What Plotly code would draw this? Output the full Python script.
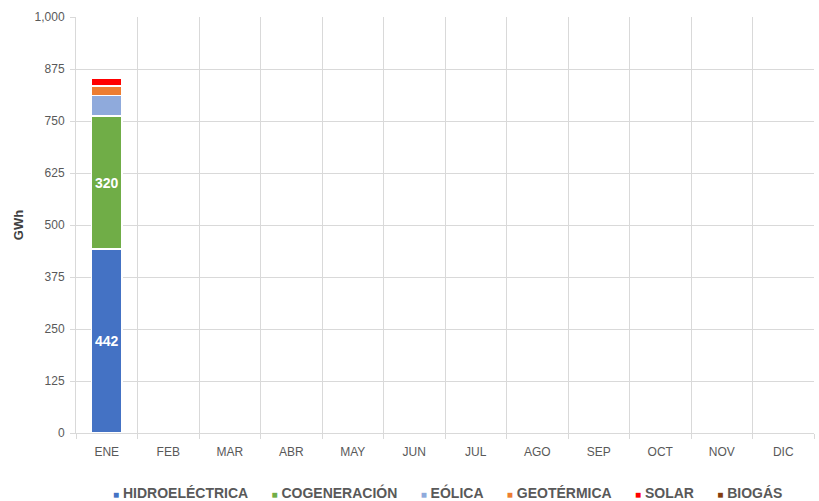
import plotly.graph_objects as go

# Generación mensual por fuente (GWh)
meses = ["ENE", "FEB", "MAR", "ABR", "MAY", "JUN", "JUL", "AGO", "SEP", "OCT", "NOV", "DIC"]
hidroelectrica = [442] + [None] * 11
cogeneracion = [320] + [None] * 11
eolica = [49] + [None] * 11
geotermica = [23] + [None] * 11
solar = [19] + [None] * 11
biogas = [2] + [None] * 11

y_ticks = [0, 125, 250, 375, 500, 625, 750, 875, 1000]

series = [
    ("HIDROELÉCTRICA", hidroelectrica, "#4472C4", True),
    ("COGENERACIÓN", cogeneracion, "#70AD47", True),
    ("EÓLICA", eolica, "#8FAADC", False),
    ("GEOTÉRMICA", geotermica, "#ED7D31", False),
    ("SOLAR", solar, "#FF0000", False),
    ("BIOGÁS", biogas, "#843C0C", False),
]

FONT = "Arial, 'Liberation Sans', sans-serif"

fig = go.Figure()
for name, vals, color, labelled in series:
    fig.add_trace(go.Bar(
        x=meses,
        y=vals,
        name=name,
        width=0.49,
        marker=dict(color=color, line=dict(color="white", width=1.5)),
        text=[f"{v:,}" if (labelled and v is not None) else "" for v in vals],
        textposition="inside",
        insidetextanchor="middle",
        textangle=0,
        textfont=dict(family=FONT, size=14, color="white", weight="bold"),
        showlegend=False,
        hoverinfo="name+y",
    ))

# Legend row drawn as a single line of coloured squares and names
legend_parts = []
for name, _, color, _ in series:
    legend_parts.append(
        f"<span style='color:{color};font-size:10px'>■</span>\u00a0{name}"
    )
legend_text = "\u00a0" * 6
legend_text = legend_text.join(legend_parts)

fig.add_annotation(
    text=f"<b>{legend_text}</b>",
    xref="paper", yref="paper",
    x=0.504, y=-0.142,
    xanchor="center", yanchor="middle",
    showarrow=False,
    font=dict(family=FONT, size=14, color="#595959"),
)

fig.update_layout(
    barmode="stack",
    width=819,
    height=501,
    margin=dict(l=76, r=5, t=17, b=68),
    paper_bgcolor="white",
    plot_bgcolor="white",
    font=dict(family=FONT, size=12, color="#595959"),
    bargap=0.5,
)

fig.update_xaxes(
    type="category",
    categoryorder="array",
    categoryarray=meses,
    range=[-0.5, 11.5],
    tickson="boundaries",
    showgrid=True,
    gridcolor="#D9D9D9",
    gridwidth=1,
    showline=True,
    linecolor="#D9D9D9",
    linewidth=1,
    ticks="outside",
    ticklen=5,
    tickcolor="#D9D9D9",
    ticklabelstandoff=8,
    tickfont=dict(family=FONT, size=12, color="#595959"),
    fixedrange=True,
)

fig.update_yaxes(
    range=[0, 1000],
    tickmode="array",
    tickvals=y_ticks,
    tickformat=",",
    showgrid=True,
    gridcolor="#D9D9D9",
    gridwidth=1,
    showline=True,
    linecolor="#D9D9D9",
    linewidth=1,
    ticks="outside",
    ticklen=5,
    tickcolor="#D9D9D9",
    ticklabelstandoff=3,
    tickfont=dict(family=FONT, size=12, color="#595959"),
    zeroline=False,
    title=dict(text="<b>GWh</b>", font=dict(family=FONT, size=13, color="#404040"), standoff=8),
    fixedrange=True,
)

fig.write_html("out.html")
